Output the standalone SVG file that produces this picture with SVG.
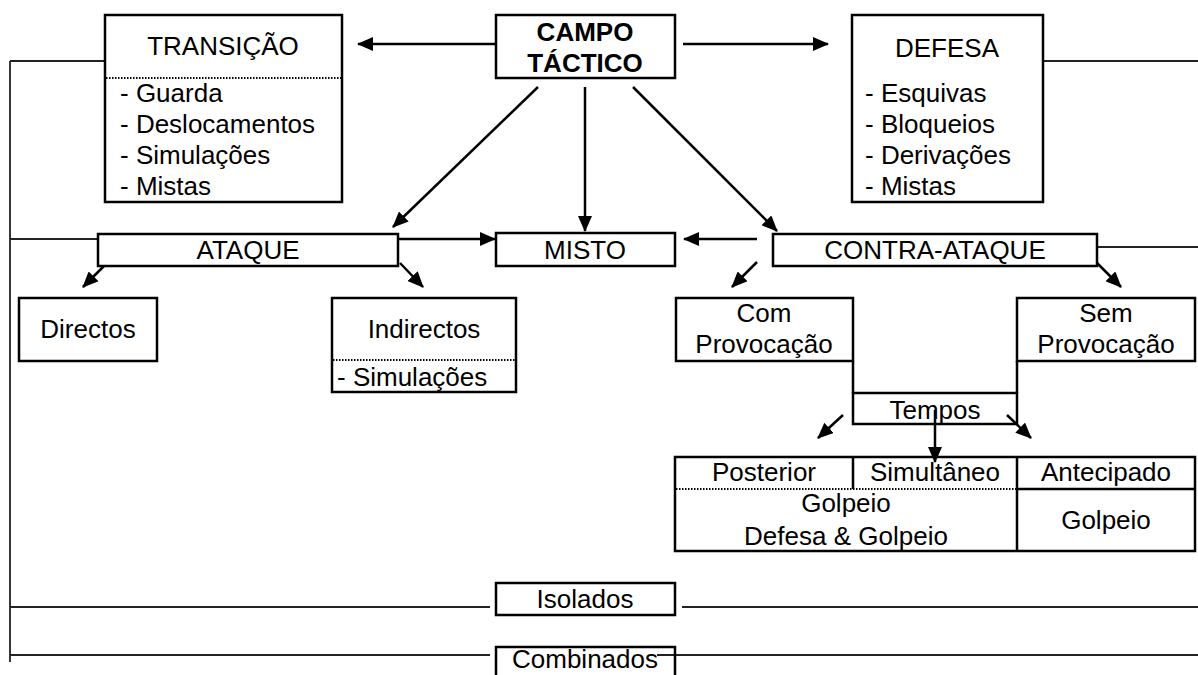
<svg xmlns="http://www.w3.org/2000/svg" width="1198" height="675" viewBox="0 0 1198 675">
<defs>
<style>
text{font-family:"Liberation Sans",Arial,sans-serif;font-size:26px;fill:#000}
.c{text-anchor:middle}
.b{font-weight:bold}
.box{fill:#fff;stroke:#000;stroke-width:2.5}
.dot{stroke:#000;stroke-width:2;stroke-dasharray:1.5 1.5;fill:none}
.ln{stroke:#000;stroke-width:2.5;fill:none}
.rail{stroke:#222;stroke-width:1.8;fill:none}
.ar{stroke:#000;stroke-width:2.5;fill:none;marker-end:url(#ah)}
</style>
<marker id="ah" markerUnits="userSpaceOnUse" markerWidth="16" markerHeight="14" refX="15" refY="7" orient="auto" viewBox="0 0 16 14">
<path d="M0,0 L16,7 L0,14 z" fill="#000"/>
</marker>
</defs>
<g id="connectors">
<path class="rail" d="M10,61 V662 M10,61 H105 M10,239 H106 M1043,61 H1198 M1090,247 H1198 M10,607 H490 M682,607 H1198 M10,655 H490 M657,655 H1198"/>
<path class="ar" d="M500,44 H358"/>
<path class="ar" d="M683,44 H828"/>
<path class="ar" d="M538,87 L393,227"/>
<path class="ar" d="M585,87 V231"/>
<path class="ar" d="M633,87 L777,231"/>
<path class="ar" d="M398,239 H495"/>
<path class="ar" d="M757,239 H684"/>
<path class="ar" d="M107,263 L83,287"/>
<path class="ar" d="M400,263 L423,287"/>
<path class="ar" d="M757,262 L732,287"/>
<path class="ar" d="M1097,263 L1121,287"/>
<path class="ln" d="M853,361 V393 M1017,361 V393"/>
<path class="ar" d="M843,415 L818,438"/>
<path class="ar" d="M935,410 V462"/>
<path class="ar" d="M1007,415 L1031,438"/>
</g>
<g id="transicao">
<rect class="box" x="105" y="15" width="237" height="187"/>
<path class="dot" d="M106,78 H341"/>
<text class="c" x="223" y="55">TRANSIÇÃO</text>
<text x="120" y="102">- Guarda</text>
<text x="120" y="133">- Deslocamentos</text>
<text x="120" y="164">- Simulações</text>
<text x="120" y="195">- Mistas</text>
</g>
<g id="campo">
<rect class="box" x="496" y="15" width="179" height="63"/>
<text class="c b" x="585" y="41">CAMPO</text>
<text class="c b" x="585" y="72">TÁCTICO</text>
</g>
<g id="defesa">
<rect class="box" x="852" y="15" width="191" height="187"/>
<text class="c" x="947" y="57">DEFESA</text>
<text x="865" y="102">- Esquivas</text>
<text x="865" y="133">- Bloqueios</text>
<text x="865" y="164">- Derivações</text>
<text x="865" y="195">- Mistas</text>
</g>
<g id="ataque">
<rect class="box" x="98" y="234" width="300" height="32"/>
<text class="c" x="248" y="259">ATAQUE</text>
</g>
<g id="misto">
<rect class="box" x="496" y="233" width="179" height="33"/>
<text class="c" x="585" y="259">MISTO</text>
</g>
<g id="contra-ataque">
<rect class="box" x="773" y="234" width="324" height="32"/>
<text class="c" x="935" y="259">CONTRA-ATAQUE</text>
</g>
<g id="directos">
<rect class="box" x="19" y="298" width="138" height="63"/>
<text class="c" x="88" y="338">Directos</text>
</g>
<g id="indirectos">
<rect class="box" x="332" y="298" width="184" height="94"/>
<path class="dot" d="M333,360 H515"/>
<text class="c" x="424" y="338">Indirectos</text>
<text x="337" y="386">- Simulações</text>
</g>
<g id="com-provocacao">
<rect class="box" x="676" y="298" width="177" height="63"/>
<text class="c" x="764" y="322">Com</text>
<text class="c" x="764" y="353">Provocação</text>
</g>
<g id="sem-provocacao">
<rect class="box" x="1017" y="298" width="178" height="63"/>
<text class="c" x="1106" y="322">Sem</text>
<text class="c" x="1106" y="353">Provocação</text>
</g>
<g id="tempos">
<rect class="box" x="853" y="393" width="164" height="31" style="fill:none"/>
<text class="c" x="935" y="419">Tempos</text>
</g>
<g id="tabela">
<rect class="box" x="675" y="457" width="520" height="94" style="fill:none"/>
<path class="ln" d="M853,457 V489 M1017,457 V551 M1017,489 H1195"/>
<path class="dot" d="M676,489 H1017"/>
<text class="c" x="764" y="481">Posterior</text>
<text class="c" x="935" y="481">Simultâneo</text>
<text class="c" x="1106" y="481">Antecipado</text>
<text class="c" x="846" y="512">Golpeio</text>
<text class="c" x="846" y="545">Defesa &amp; Golpeio</text>
<text class="c" x="1106" y="529">Golpeio</text>
</g>
<g id="isolados">
<rect class="box" x="496" y="583" width="179" height="32"/>
<text class="c" x="585" y="608">Isolados</text>
</g>
<g id="combinados">
<path class="ln" d="M496,676 V647 H675 V676"/>
<text class="c" x="585" y="668">Combinados</text>
</g>
</svg>
